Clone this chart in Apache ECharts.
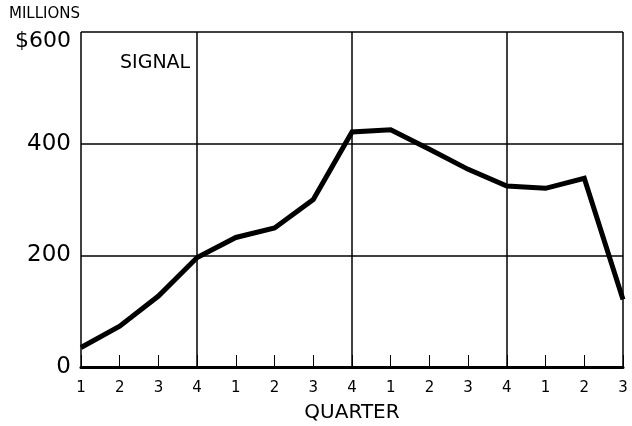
<!DOCTYPE html>
<html>
<head>
<meta charset="utf-8">
<script src="https://cdn.jsdelivr.net/npm/echarts@6/dist/echarts.min.js"></script>
<style>
  html, body { margin: 0; padding: 0; background: #fff; }
  #chart { width: 632px; height: 426px; }
</style>
</head>
<body>
<div id="chart"></div>
<script>
// quarters, four years running (last one stops at Q3)
const quarters = ['1', '2', '3', '4', '1', '2', '3', '4', '1', '2', '3', '4', '1', '2', '3'];
// Signal, millions of dollars
const signalValues = [35, 73, 127, 196, 232, 249, 300, 421, 425, 390, 354, 324, 320, 338, 121];
const yTicks = [0, 200, 400, 600];

const font = '"DejaVu Sans", "Liberation Sans", sans-serif';
const chart = echarts.init(document.getElementById('chart'));

chart.setOption({
    animation: false,
    backgroundColor: '#fff',
    // keep the plot box fixed, don't let v6 shrink it for the labels
    grid: { left: 81, right: 9, top: 32, bottom: 59, outerBoundsMode: 'none' },
    graphic: [
        {
            type: 'text', left: 9, top: 7,
            style: { text: 'MILLIONS', font: '15px ' + font, fill: '#000' }
        },
        {
            type: 'text', left: 120, top: 54,
            style: { text: 'SIGNAL', font: '19px ' + font, fill: '#000' }
        }
    ],
    xAxis: {
        type: 'category',
        data: quarters,
        boundaryGap: false,
        name: 'QUARTER',
        nameLocation: 'middle',
        nameGap: 36,
        nameTextStyle: { color: '#000', fontSize: 20, fontFamily: font },
        axisLine: { lineStyle: { color: '#000', width: 3 } },
        axisTick: {
            inside: true, length: 12, interval: 0,
            lineStyle: { color: '#000', width: 1 }
        },
        axisLabel: { color: '#000', fontSize: 15, fontFamily: font, margin: 14, interval: 0 },
        splitLine: {
            show: true,
            interval: (i) => i === 0 || i === 14 || i % 4 === 3,
            lineStyle: { color: '#000', width: 1.5 }
        }
    },
    yAxis: {
        type: 'value',
        min: 0,
        max: 600,
        interval: 200,
        axisLine: { show: false },
        axisTick: { show: false },
        axisLabel: {
            color: '#000', fontSize: 23, fontFamily: font, margin: 10,
            formatter: (v) => v === 600 ? '{top|$600}' : String(v),
            rich: { top: { fontSize: 22, fontFamily: font, color: '#000', padding: [18, 0, 0, 0] } }
        },
        splitLine: { lineStyle: { color: '#000', width: 1.5 } }
    },
    series: [{
        type: 'line',
        data: signalValues,
        showSymbol: false,
        lineStyle: { color: '#000', width: 5, join: 'miter' }
    }]
});
</script>
</body>
</html>
